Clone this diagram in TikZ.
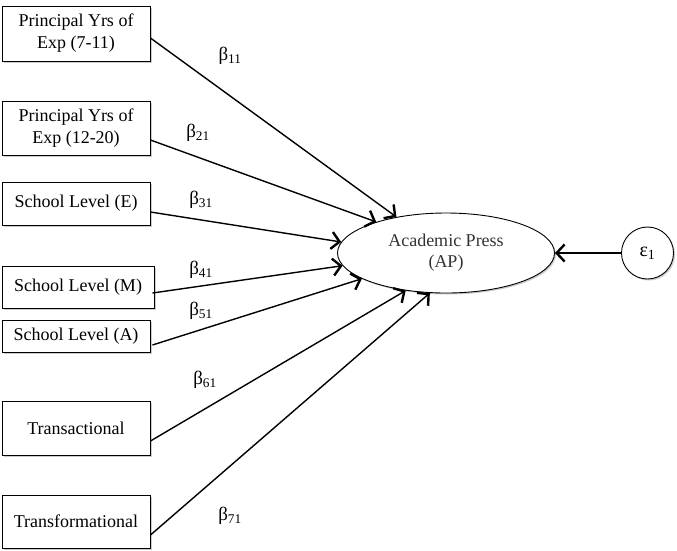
\documentclass[tikz,border=0pt]{standalone}
\usepackage{fontspec}
\setmainfont{Liberation Serif}
\usetikzlibrary{arrows.meta,shapes.geometric,shadows}
\begin{document}
\begin{tikzpicture}[x=1pt,y=-1pt,
  box/.style={draw,line width=0.9pt,fill=white,inner sep=0pt,align=center,
    font=\fontsize{18}{22}\selectfont,
    drop shadow={shadow xshift=1.5pt,shadow yshift=-1.5pt,opacity=0.2,fill=black}},
  path/.style={line width=1.4pt,-{Straight Barb[length=8pt,width=17pt,line width=2.4pt]}},
  beta/.style={font=\fontsize{19}{20}\selectfont,inner sep=0pt}]
\useasboundingbox (0,0) rectangle (677,550);
\node[box,minimum width=148pt,minimum height=55pt] (b1) at (76,33.5) {Principal Yrs of\\Exp (7-11)};
\node[box,minimum width=148pt,minimum height=54pt] (b2) at (76,128) {Principal Yrs of\\Exp (12-20)};
\node[box,minimum width=148pt,minimum height=43pt] (b3) at (76,203.5) {School Level (E)};
\node[box,minimum width=152pt,minimum height=42pt] (b4) at (78,287) {School Level (M)};
\node[box,minimum width=148pt,minimum height=32pt] (b5) at (76,336) {School Level (A)};
\node[box,minimum width=148pt,minimum height=54pt] (b6) at (76,428) {Transactional};
\node[box,minimum width=148pt,minimum height=53pt] (b7) at (76,521.5) {Transformational};
\node[ellipse,draw,line width=0.9pt,fill=white,minimum width=217pt,minimum height=80pt,inner sep=0pt,align=center,
  font=\fontsize{18}{21}\selectfont,text=black!80,
  drop shadow={shadow xshift=1.5pt,shadow yshift=-1.5pt,opacity=0.2,fill=black}] (ap) at (446,253) {Academic Press\\(AP)};
\node[circle,draw,line width=0.9pt,fill=white,minimum size=52pt,inner sep=0pt,font=\fontsize{20}{22}\selectfont,
  drop shadow={shadow xshift=1.5pt,shadow yshift=-1.5pt,opacity=0.2,fill=black}] (ep) at (647.5,253) {ε\textsubscript{1}};
\draw[path] ([yshift=-4.5pt]b1.east) -- (ap.144.9);
\draw[path] ([yshift=-12pt]b2.east) -- (ap.156.6);
\draw[path] ([yshift=-8.5pt]b3.east) -- (ap.174.2);
\draw[path] ([xshift=-2pt,yshift=-6pt]b4.east) -- (ap.187.3);
\draw[path] ([xshift=2pt,yshift=-9pt]b5.east) -- (ap.197.4);
\draw[path] ([yshift=-13pt]b6.east) -- (ap.223);
\draw[path] ([yshift=-13.5pt]b7.east) -- (ap.248.7);
\draw[path] (ep.west) -- (ap.east);
\node[beta] (l1) at (230,56) {β\textsubscript{11}};
\node[beta] (l2) at (198,133) {β\textsubscript{21}};
\node[beta] (l3) at (201,200) {β\textsubscript{31}};
\node[beta] (l4) at (201,270) {β\textsubscript{41}};
\node[beta] (l5) at (201,311) {β\textsubscript{51}};
\node[beta] (l6) at (205,380) {β\textsubscript{61}};
\node[beta] (l7) at (230,516) {β\textsubscript{71}};
\end{tikzpicture}
\end{document}
